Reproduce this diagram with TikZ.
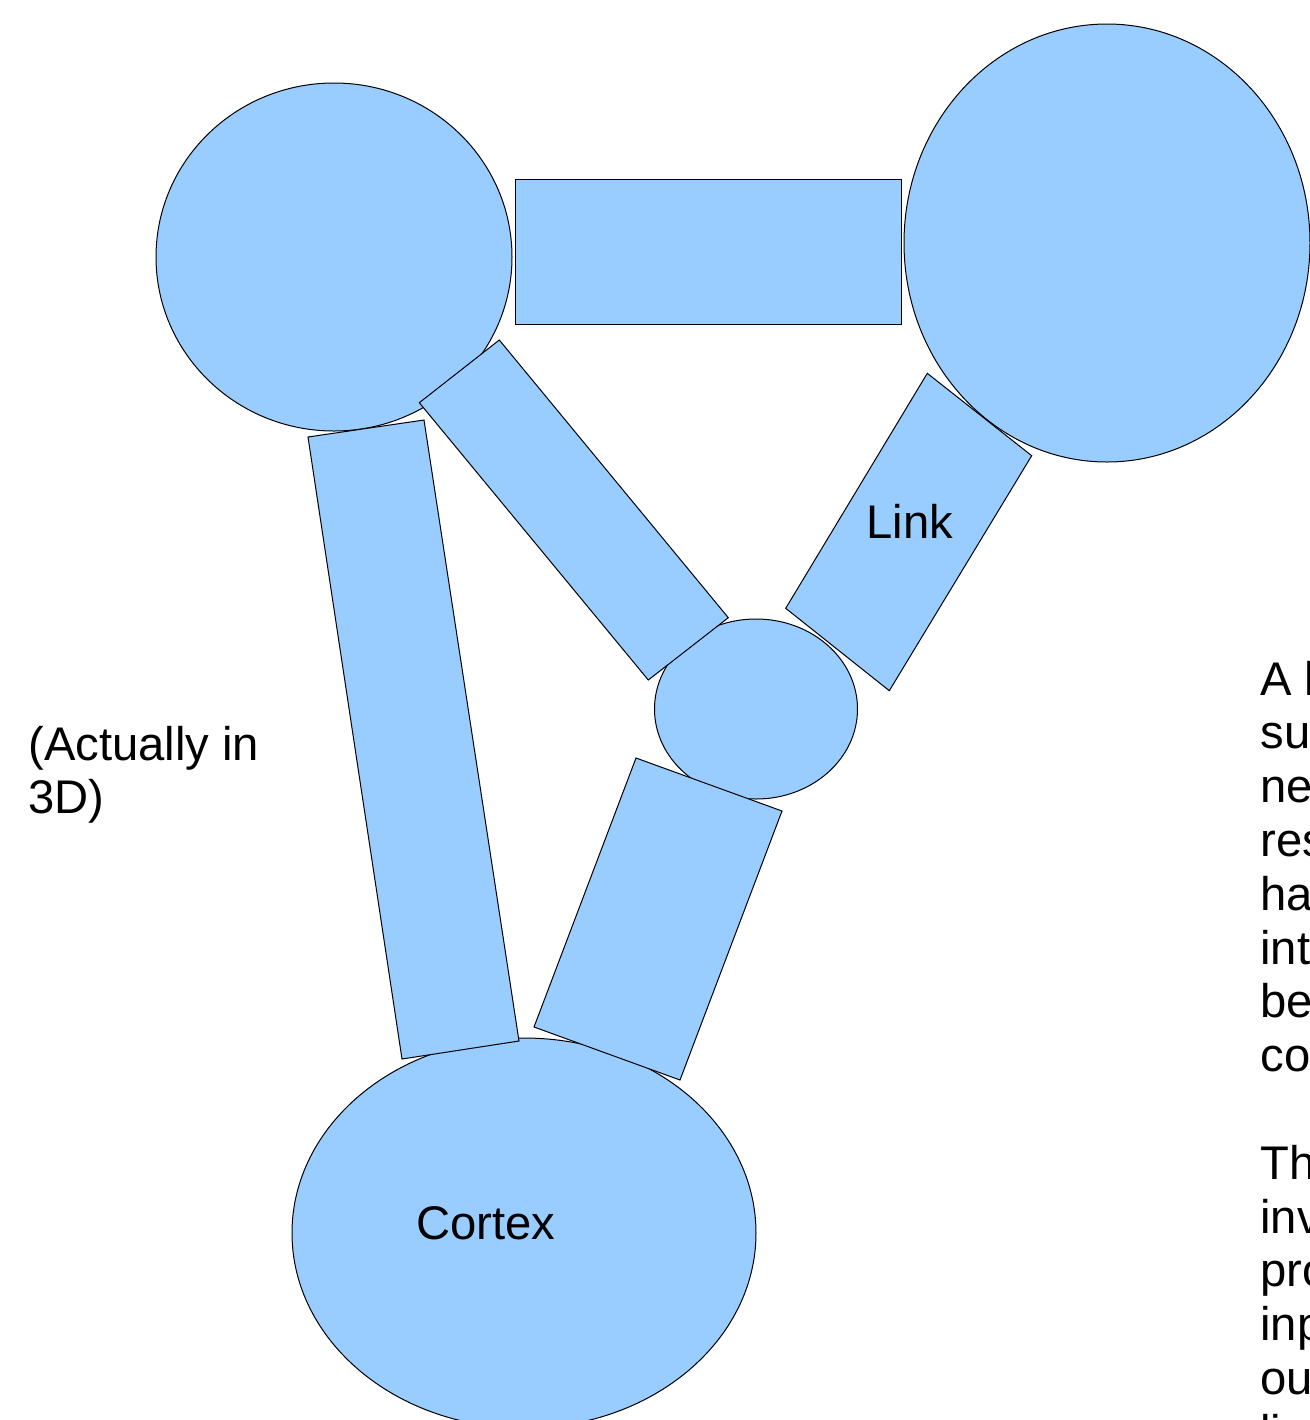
\documentclass[tikz,border=0pt]{standalone}
\usepackage{fontspec}
\setmainfont{Liberation Sans}
\definecolor{shapefill}{HTML}{99CCFF}
\begin{document}
\begin{tikzpicture}[x=0.5pt,y=-0.5pt,
  part/.style={fill=shapefill,draw=black,line width=0.5pt,line join=miter},
  lbl/.style={anchor=base west,inner sep=0pt,font=\fontsize{23.6}{26.9}\selectfont}]
\useasboundingbox (0,0) rectangle (1310,1420);
\clip (0,0) rectangle (1310,1420);
% ellipses / circles
\path[part] (334,257) ellipse [x radius=89pt, y radius=87pt];
\path[part] (1107,243) ellipse [x radius=101.5pt, y radius=109.5pt];
\path[part] (756,709) ellipse [x radius=50.75pt, y radius=45pt];
\path[part] (524,1233) ellipse [x radius=116pt, y radius=97.5pt];
% links
\path[part] (515,179) rectangle (901,324);
\path[part] (499.3,340) -- (728.3,617.7) -- (648.3,680) -- (419.3,402.7) -- cycle;
\path[part] (927.3,373.3) -- (1031.7,455.7) -- (889.3,690.7) -- (785.7,608.3) -- cycle;
\path[part] (308,437) -- (424,420) -- (519,1041) -- (402,1059) -- cycle;
\path[part] (636,758) -- (782,811) -- (680,1080) -- (534,1027) -- cycle;
% labels
\node[lbl] (link) at (866,538) {Link};
\node[lbl] (cortex) at (416,1239) {Cortex};
\node[lbl] (note1) at (28,760) {(Actually in};
\node[lbl] (note2) at (28,813) {3D)};
\foreach \t/\k in {A l/0, su/1, ne/2, res/3, ha/4, int/5, be/6, co/7, Th/9, inv/10, pro/11, inp/12, ou/13, li/14}
  \node[lbl] (side\k) at (1260,695+\k*53.8) {\t};
\end{tikzpicture}
\end{document}
